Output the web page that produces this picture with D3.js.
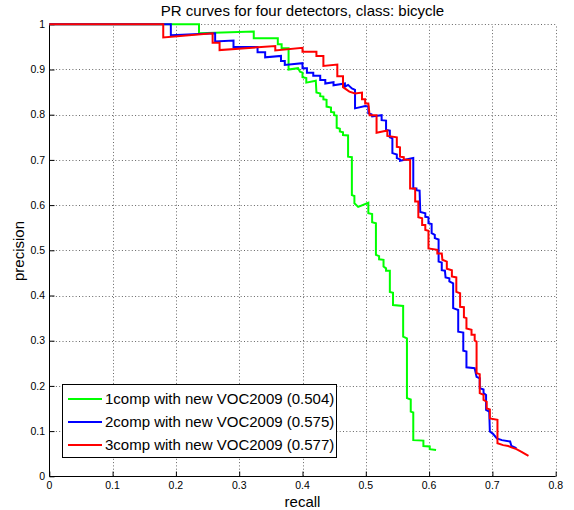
<!DOCTYPE html>
<html>
<head>
<meta charset="utf-8">
<script src="https://cdn.jsdelivr.net/npm/d3@7"></script>
<style>
  body { margin: 0; background: #fff; }
  text { font-family: 'Liberation Sans', Arial, sans-serif; fill: #000; }
</style>
</head>
<body>
<svg id="chart" width="574" height="510"></svg>
<script>
const chartTitle = 'PR curves for four detectors, class: bicycle'
const xTicks = [0, 0.1, 0.2, 0.3, 0.4, 0.5, 0.6, 0.7, 0.8]
const yTicks = [0, 0.1, 0.2, 0.3, 0.4, 0.5, 0.6, 0.7, 0.8, 0.9, 1]
const seriesNames = ['1comp with new VOC2009', '2comp with new VOC2009', '3comp with new VOC2009']
const seriesAP = [0.504, 0.575, 0.577]
const seriesColors = ['#00ff00', '#0000ff', '#ff0000']

// [recall, precision] vertices
const comp1 = [
  [0, 1], [0.2365, 1], [0.2365, 0.980], [0.323, 0.984], [0.323, 0.969], [0.361, 0.969],
  [0.361, 0.956], [0.367, 0.956], [0.367, 0.947], [0.378, 0.947], [0.378, 0.900],
  [0.393, 0.903], [0.396, 0.895], [0.400, 0.893], [0.400, 0.883], [0.406, 0.881],
  [0.406, 0.871], [0.421, 0.875], [0.422, 0.849], [0.428, 0.847], [0.428, 0.841],
  [0.433, 0.840], [0.433, 0.834], [0.438, 0.833], [0.438, 0.818], [0.445, 0.816],
  [0.445, 0.806], [0.450, 0.805], [0.450, 0.799], [0.454, 0.798], [0.454, 0.771],
  [0.459, 0.769], [0.459, 0.763], [0.464, 0.761], [0.464, 0.755], [0.472, 0.754],
  [0.472, 0.707], [0.478, 0.706], [0.478, 0.622], [0.482, 0.620], [0.482, 0.604],
  [0.488, 0.596], [0.504, 0.605], [0.504, 0.582], [0.510, 0.580], [0.510, 0.562],
  [0.516, 0.560], [0.516, 0.490], [0.521, 0.487], [0.521, 0.480], [0.528, 0.479],
  [0.528, 0.464], [0.532, 0.460], [0.532, 0.455], [0.538, 0.455], [0.538, 0.408],
  [0.543, 0.406], [0.543, 0.379], [0.559, 0.377], [0.559, 0.309], [0.565, 0.305],
  [0.565, 0.173], [0.571, 0.170], [0.571, 0.143], [0.575, 0.141], [0.575, 0.080],
  [0.591, 0.079], [0.591, 0.067], [0.601, 0.066], [0.601, 0.060], [0.611, 0.058]
]
const comp2 = [
  [0, 1], [0.192, 1], [0.192, 0.976], [0.262, 0.980], [0.262, 0.962], [0.291, 0.964],
  [0.291, 0.950], [0.329, 0.950], [0.329, 0.938], [0.341, 0.938], [0.341, 0.927],
  [0.366, 0.930], [0.366, 0.919], [0.372, 0.919], [0.372, 0.910], [0.400, 0.914],
  [0.400, 0.903], [0.407, 0.903], [0.407, 0.893], [0.417, 0.893], [0.417, 0.886],
  [0.428, 0.886], [0.428, 0.877], [0.436, 0.877], [0.436, 0.869], [0.449, 0.872],
  [0.449, 0.865], [0.467, 0.869], [0.467, 0.862], [0.472, 0.866], [0.478, 0.858],
  [0.483, 0.855], [0.483, 0.814], [0.499, 0.819], [0.504, 0.818], [0.504, 0.803],
  [0.509, 0.801], [0.510, 0.796], [0.525, 0.799], [0.525, 0.788], [0.532, 0.787],
  [0.532, 0.766], [0.538, 0.765], [0.538, 0.750], [0.542, 0.748], [0.542, 0.715],
  [0.549, 0.712], [0.549, 0.704], [0.554, 0.701], [0.554, 0.698], [0.575, 0.704],
  [0.575, 0.637], [0.580, 0.637], [0.580, 0.633], [0.585, 0.632], [0.586, 0.585],
  [0.594, 0.582], [0.594, 0.574], [0.599, 0.573], [0.599, 0.560], [0.604, 0.558],
  [0.604, 0.538], [0.609, 0.534], [0.609, 0.527], [0.615, 0.524], [0.615, 0.475],
  [0.620, 0.473], [0.620, 0.456], [0.625, 0.455], [0.626, 0.440], [0.632, 0.438],
  [0.632, 0.431], [0.638, 0.427], [0.638, 0.372], [0.646, 0.368], [0.646, 0.320],
  [0.654, 0.318], [0.654, 0.278], [0.659, 0.276], [0.659, 0.241], [0.672, 0.239],
  [0.675, 0.220], [0.680, 0.217], [0.680, 0.195], [0.686, 0.192], [0.686, 0.184],
  [0.690, 0.180], [0.690, 0.147], [0.695, 0.143], [0.696, 0.099], [0.701, 0.094],
  [0.707, 0.084], [0.715, 0.080], [0.728, 0.077], [0.730, 0.067], [0.738, 0.062]
]
const comp3 = [
  [0, 1], [0.180, 1], [0.180, 0.971], [0.258, 0.980], [0.258, 0.959], [0.269, 0.959],
  [0.269, 0.943], [0.357, 0.952], [0.357, 0.942], [0.400, 0.948], [0.400, 0.939],
  [0.422, 0.939], [0.422, 0.930], [0.433, 0.930], [0.433, 0.908], [0.455, 0.911],
  [0.455, 0.885], [0.464, 0.885], [0.464, 0.861], [0.474, 0.851], [0.483, 0.847],
  [0.494, 0.849], [0.494, 0.834], [0.499, 0.834], [0.499, 0.825], [0.504, 0.825],
  [0.506, 0.799], [0.517, 0.799], [0.517, 0.760], [0.534, 0.765], [0.534, 0.753],
  [0.549, 0.750], [0.549, 0.729], [0.554, 0.728], [0.554, 0.707], [0.560, 0.706],
  [0.560, 0.701], [0.570, 0.700], [0.570, 0.637], [0.578, 0.637], [0.578, 0.608],
  [0.583, 0.608], [0.583, 0.573], [0.589, 0.571], [0.589, 0.556], [0.594, 0.556],
  [0.594, 0.545], [0.599, 0.543], [0.599, 0.504], [0.613, 0.501], [0.613, 0.493],
  [0.620, 0.493], [0.621, 0.479], [0.628, 0.475], [0.628, 0.459], [0.636, 0.456],
  [0.636, 0.442], [0.643, 0.440], [0.643, 0.408], [0.649, 0.405], [0.649, 0.375],
  [0.655, 0.374], [0.655, 0.352], [0.659, 0.350], [0.659, 0.327], [0.667, 0.324],
  [0.667, 0.313], [0.672, 0.313], [0.672, 0.300], [0.675, 0.298], [0.675, 0.228],
  [0.680, 0.226], [0.680, 0.184], [0.686, 0.180], [0.686, 0.169], [0.691, 0.165],
  [0.691, 0.150], [0.696, 0.148], [0.696, 0.128], [0.708, 0.125], [0.708, 0.073],
  [0.717, 0.069], [0.725, 0.067], [0.730, 0.064], [0.738, 0.060], [0.746, 0.054],
  [0.757, 0.045]
]
const allSeries = [comp1, comp2, comp3]

const svg = d3.select('#chart')
const x = d3.scaleLinear().domain([0, 0.8]).range([49.3, 555.7])
const y = d3.scaleLinear().domain([0, 1]).range([476.3, 24.3])

// dotted grid
const grid = svg.append('g')
grid.selectAll('line.gx')
  .data(xTicks.slice(1))
  .enter().append('line')
  .attr('x1', (d) => Math.round(x(d)) + 0.5)
  .attr('x2', (d) => Math.round(x(d)) + 0.5)
  .attr('y1', y(0))
  .attr('y2', y(1))
  .attr('stroke', '#666')
  .attr('stroke-dasharray', '1,2.3')
grid.selectAll('line.gy')
  .data(yTicks.slice(1))
  .enter().append('line')
  .attr('x1', x(0))
  .attr('x2', x(0.8))
  .attr('y1', (d) => Math.round(y(d)) + 0.5)
  .attr('y2', (d) => Math.round(y(d)) + 0.5)
  .attr('stroke', '#666')
  .attr('stroke-dasharray', '1,2.3')

// axes, ticks pointing inward like matlab
const xAxis = svg.append('g')
  .attr('transform', `translate(0,${Math.round(y(0)) + 0.5})`)
  .call(d3.axisTop(x).tickValues(xTicks).tickSize(5).tickFormat(''))
xAxis.select('.domain').attr('d', `M${x(0)},0H${x(0.8)}`)
const yAxis = svg.append('g')
  .attr('transform', `translate(${Math.round(x(0)) + 0.5},0)`)
  .call(d3.axisRight(y).tickValues(yTicks).tickSize(5).tickFormat(''))
yAxis.select('.domain').attr('d', `M0,${y(0)}V${y(1)}`)

svg.selectAll('text.xt')
  .data(xTicks)
  .enter().append('text')
  .attr('x', (d) => x(d))
  .attr('y', 489)
  .attr('text-anchor', 'middle')
  .style('font-size', '10.5px')
  .text((d) => d3.format('~g')(d))
svg.selectAll('text.yt')
  .data(yTicks)
  .enter().append('text')
  .attr('x', 45)
  .attr('y', (d) => y(d))
  .attr('dy', '0.35em')
  .attr('text-anchor', 'end')
  .style('font-size', '10.5px')
  .text((d) => d3.format('~g')(d))

// curves
const line = d3.line().x((d) => x(d[0])).y((d) => y(d[1]))
svg.selectAll('path.pr')
  .data(allSeries)
  .enter().append('path')
  .attr('d', line)
  .attr('fill', 'none')
  .attr('stroke', (d, i) => seriesColors[i])
  .attr('stroke-width', 2)
  .attr('stroke-linejoin', 'miter')

// labels
svg.append('text')
  .attr('x', 302.5)
  .attr('y', 15.5)
  .attr('text-anchor', 'middle')
  .style('font-size', '15px')
  .text(chartTitle)
svg.append('text')
  .attr('x', 302.5)
  .attr('y', 506.5)
  .attr('text-anchor', 'middle')
  .style('font-size', '15px')
  .text('recall')
svg.append('text')
  .attr('transform', 'translate(23.5,251) rotate(-90)')
  .attr('text-anchor', 'middle')
  .style('font-size', '15px')
  .text('precision')

// legend
const legend = svg.append('g')
legend.append('rect')
  .attr('x', 62.5)
  .attr('y', 384.5)
  .attr('width', 274)
  .attr('height', 73)
  .attr('fill', '#fff')
  .attr('stroke', '#000')
const row = legend.selectAll('g.row')
  .data(seriesNames)
  .enter().append('g')
  .attr('transform', (d, i) => `translate(0,${399 + i * 23})`)
row.append('line')
  .attr('x1', 68)
  .attr('x2', 102)
  .attr('stroke', (d, i) => seriesColors[i])
  .attr('stroke-width', 2)
row.append('text')
  .attr('x', 105)
  .attr('dy', '0.36em')
  .style('font-size', '15px')
  .text((d, i) => `${d} (${seriesAP[i].toFixed(3)})`)
</script>
</body>
</html>
